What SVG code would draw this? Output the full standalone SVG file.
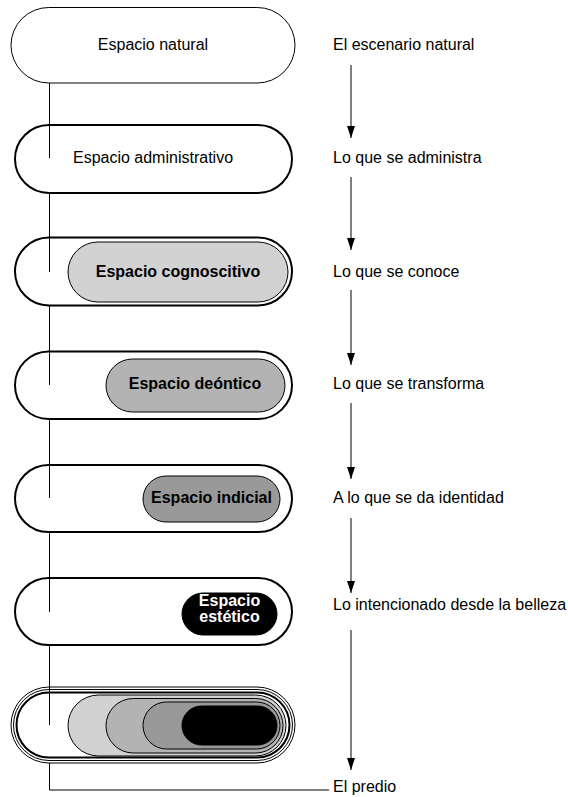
<svg xmlns="http://www.w3.org/2000/svg" width="568" height="797" viewBox="0 0 568 797">
<style>
text{font-family:"Liberation Sans",Arial,Helvetica,sans-serif;font-size:16px;fill:#000}
.c{text-anchor:middle}
.b{font-weight:bold}
.w{fill:#fff}
.o1{fill:#fff;stroke:#000;stroke-width:1}
.o2{fill:#fff;stroke:#000;stroke-width:2}
.ot{fill:none;stroke:#000;stroke-width:1}
.ot2{fill:none;stroke:#000;stroke-width:2}
.p1{fill:#d2d2d2;stroke:#000;stroke-width:1}
.p2{fill:#b3b3b3;stroke:#000;stroke-width:1}
.p3{fill:#999;stroke:#000;stroke-width:1}
.p4{fill:#000;stroke:#000;stroke-width:1}
.ln{fill:none;stroke:#000;stroke-width:1}
.ar{fill:none;stroke:#000;stroke-width:1;marker-end:url(#ah)}
</style>
<defs>
<marker id="ah" viewBox="0 0 12 8" refX="12" refY="4" markerWidth="12" markerHeight="8" markerUnits="userSpaceOnUse" orient="auto">
<path d="M0,0 L12,4 L0,8 z" fill="#000"/>
</marker>
</defs>
<rect width="568" height="797" fill="#fff"/>

<g id="n1">
<rect class="o1" x="11" y="7.5" width="284" height="75.5" rx="37.75"/>
<text class="c" x="153" y="49.5">Espacio natural</text>
</g>
<g id="n2">
<rect class="o2" x="15" y="125" width="277" height="68" rx="34"/>
<text class="c" x="153" y="163">Espacio administrativo</text>
</g>
<g id="n3">
<rect class="o2" x="15" y="237.5" width="277" height="68" rx="34"/>
<rect class="p1" x="68" y="242" width="220" height="60" rx="30"/>
<text class="c b" x="178" y="276.5">Espacio cognoscitivo</text>
</g>
<g id="n4">
<rect class="o2" x="15" y="351.5" width="277" height="67.5" rx="33.75"/>
<rect class="p2" x="106" y="359" width="179" height="53" rx="26.5"/>
<text class="c b" x="195" y="389.3">Espacio deóntico</text>
</g>
<g id="n5">
<rect class="o2" x="15" y="465" width="277" height="67" rx="33.5"/>
<rect class="p3" x="143" y="476" width="137" height="46" rx="23"/>
<text class="c b" x="211.5" y="503.3">Espacio indicial</text>
</g>
<g id="n6">
<rect class="o2" x="15" y="578" width="277" height="67" rx="33.5"/>
<rect class="p4" x="182" y="593" width="95" height="42" rx="21"/>
<text class="c b w" x="229.5" y="605.5">Espacio</text>
<text class="c b w" x="229.5" y="621.5">estético</text>
</g>
<g id="n7">
<rect class="o1" x="11" y="687" width="284" height="76" rx="38"/>
<rect class="ot" x="13.5" y="689.5" width="279" height="71" rx="35.5"/>
<rect class="ot2" x="16.5" y="692.5" width="273" height="65" rx="32.5"/>
<rect class="p1" x="68" y="695" width="218" height="61" rx="30.5"/>
<rect class="p2" x="106" y="698.5" width="177" height="54.5" rx="27.25"/>
<rect class="p3" x="143" y="702" width="137" height="47" rx="23.5"/>
<rect class="p4" x="182" y="706" width="95" height="39" rx="19.5"/>
</g>

<g id="labels">
<text x="333" y="50">El escenario natural</text>
<text x="333" y="163">Lo que se administra</text>
<text x="333" y="276.5">Lo que se conoce</text>
<text x="333" y="389.3">Lo que se transforma</text>
<text x="333" y="503.3">A lo que se da identidad</text>
<text x="333" y="610">Lo intencionado desde la belleza</text>
<text x="333" y="792">El predio</text>
</g>

<g id="connectors">
<path class="ln" d="M49.5,83 V158"/>
<path class="ln" d="M49.5,193 V272"/>
<path class="ln" d="M49.5,306 V385"/>
<path class="ln" d="M49.5,419 V498"/>
<path class="ln" d="M49.5,532 V612"/>
<path class="ln" d="M49.5,645 V725"/>
<path class="ln" d="M49.5,763 V790 H329"/>
<path class="ar" d="M351,65 V138"/>
<path class="ar" d="M351,177 V250"/>
<path class="ar" d="M351,290 V365"/>
<path class="ar" d="M351,403 V479"/>
<path class="ar" d="M351,518 V593"/>
<path class="ar" d="M351,630 V770"/>
</g>
</svg>
